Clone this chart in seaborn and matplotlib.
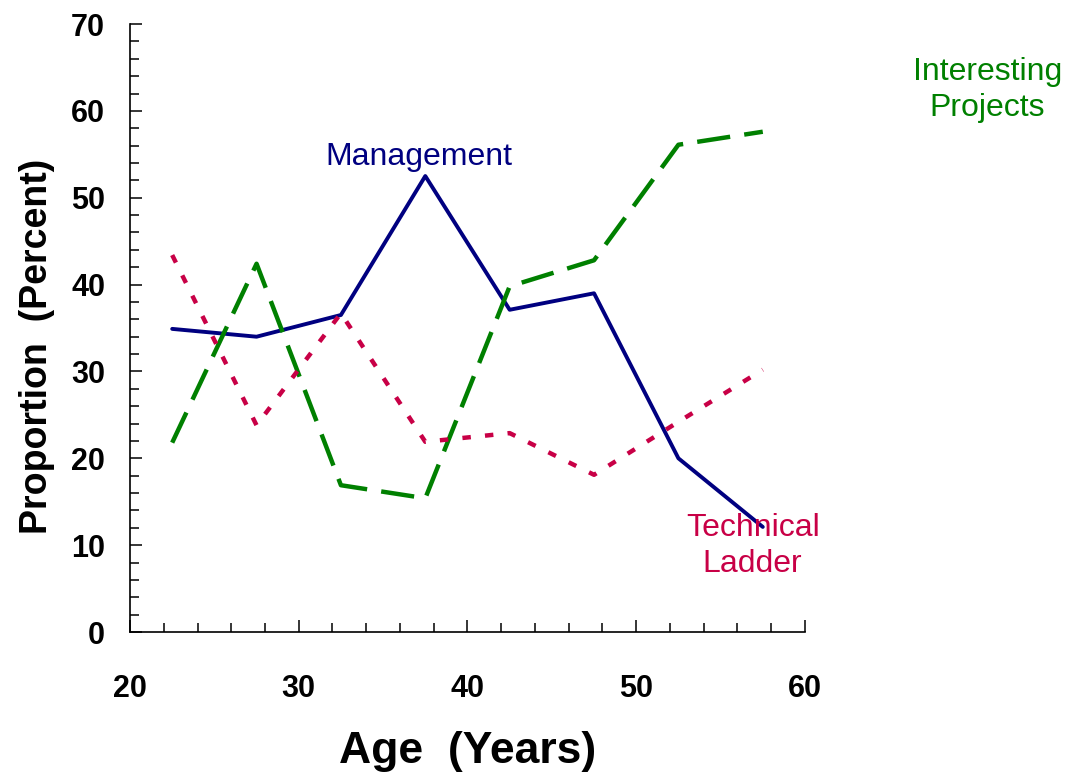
import pandas as pd
import seaborn as sns
import matplotlib.pyplot as plt
from matplotlib.ticker import MultipleLocator

# Age group midpoints and the share choosing each career goal
age = [22.5, 27.5, 32.5, 37.5, 42.5, 47.5, 52.5, 57.5]
management = [34.9, 34.0, 36.5, 52.5, 37.1, 39.0, 20.0, 12.1]
interesting_projects = [21.8, 42.4, 16.9, 15.4, 39.8, 42.8, 56.1, 57.6]
technical_ladder = [43.4, 23.8, 36.7, 21.9, 22.9, 18.1, 24.2, 30.2]

df = pd.DataFrame({'Age': age,
                   'Management': management,
                   'Interesting Projects': interesting_projects,
                   'Technical Ladder': technical_ladder})

sns.set_theme(style='ticks')
plt.rcParams['font.family'] = ['Liberation Sans', 'DejaVu Sans']

fig = plt.figure(figsize=(10.7, 7.75), dpi=100)
ax = fig.add_axes([0.1215, 0.1845, 0.6308, 0.7845])

navy = '#000080'
green = '#008000'
crimson = '#C80046'

sns.lineplot(data=df, x='Age', y='Management', ax=ax, color=navy, linewidth=2.8)
sns.lineplot(data=df, x='Age', y='Interesting Projects', ax=ax, color=green,
             linewidth=3.2, dashes=(7.5, 3.2))
sns.lineplot(data=df, x='Age', y='Technical Ladder', ax=ax, color=crimson,
             linewidth=3.2, dashes=(1.9, 3.2))

ax.set_xlim(20, 60)
ax.set_ylim(0, 70)
ax.xaxis.set_major_locator(MultipleLocator(10))
ax.xaxis.set_minor_locator(MultipleLocator(2))
ax.yaxis.set_major_locator(MultipleLocator(10))
ax.yaxis.set_minor_locator(MultipleLocator(2))
ax.tick_params(which='both', direction='in', color='black', width=1.1)
ax.tick_params(which='major', length=8.5)
ax.tick_params(which='minor', length=6.5)
ax.tick_params(axis='x', which='major', pad=30)
ax.tick_params(axis='y', which='major', pad=18)
for lab in ax.get_xticklabels() + ax.get_yticklabels():
    lab.set_fontsize(22)
    lab.set_fontweight('bold')
    lab.set_color('black')

sns.despine(ax=ax)
for side in ['left', 'bottom']:
    ax.spines[side].set_color('black')
    ax.spines[side].set_linewidth(1.2)

ax.set_xlabel('Age  (Years)', fontsize=32, fontweight='bold', color='black', labelpad=20)
ax.set_ylabel('Proportion  (Percent)', fontsize=27, fontweight='bold', color='black')
ax.yaxis.set_label_coords(-0.111, 0.469)

# Series labels
ax.text(37.1, 54.7, 'Management', color=navy, fontsize=23, ha='center', va='center')
ax.text(70.8, 62.4, 'Interesting\nProjects', color=green, fontsize=23,
        ha='center', va='center', linespacing=1.3, clip_on=False)
ax.text(56.9, 9.9, 'Technical\nLadder', color=crimson, fontsize=23,
        ha='center', va='center', linespacing=1.3)

fig.savefig('out.png', dpi=100)
